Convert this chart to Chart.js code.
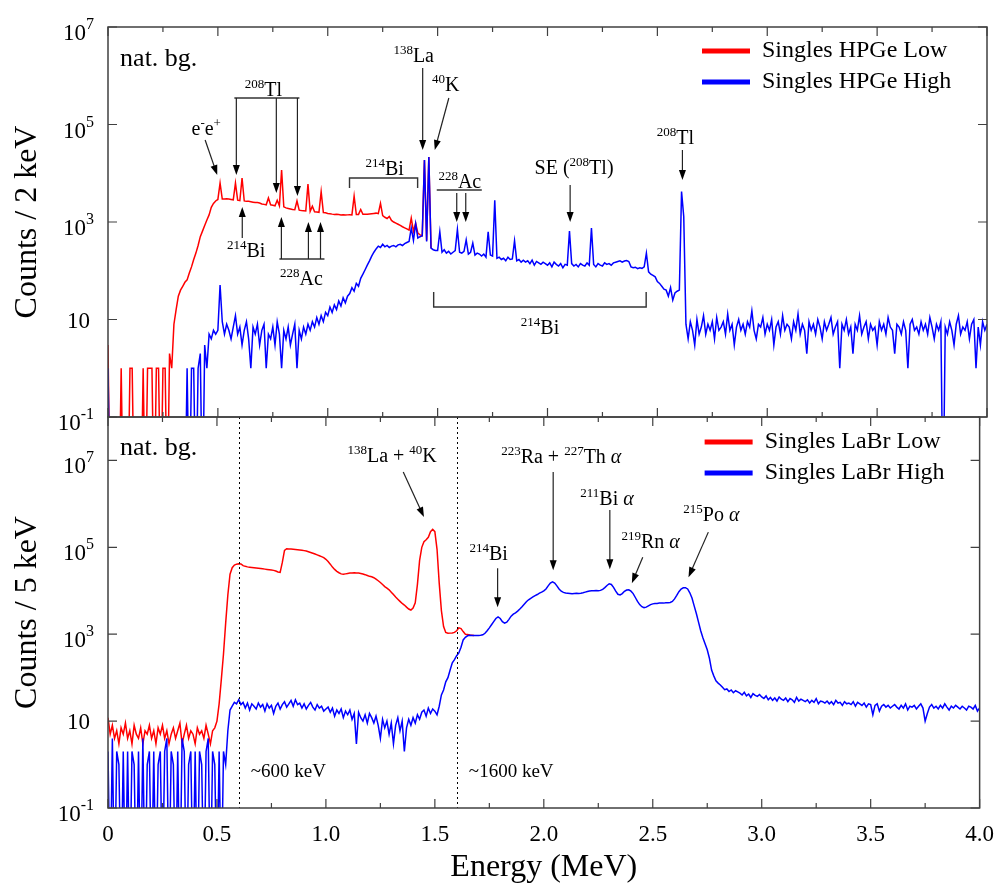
<!DOCTYPE html>
<html>
<head>
<meta charset="utf-8">
<script src="https://cdn.jsdelivr.net/npm/chart.js@4.4.1/dist/chart.umd.min.js"></script>
<style>
    body { margin: 0; background: #fff; }
    #quadro { position: relative; width: 1007px; height: 888px; }
    #quadro canvas { position: absolute; left: 0; top: 0; }
</style>
</head>
<body>
<div id="quadro">
    <canvas id="hpge" width="1007" height="888"></canvas>
    <canvas id="labr" width="1007" height="888"></canvas>
</div>
<script>
// Bins de 10 keV a partir de 0 MeV
const passoEnergia = 0.01;

// Espectro HPGe, ganho baixo (0 - 1.47 MeV)
const hpgeLow = [
    3, 0, 0, 0, 0, 0, 1, 0, 0, 0,
    1, 1, 0, 0, 0, 0, 1, 0, 1, 1,
    1, 0, 1, 1, 0, 1, 1, 0, 2, 1,
    8, 16, 30, 40, 48, 58, 65, 90, 120, 170,
    230, 330, 500, 650, 850, 1100, 1400, 2000, 2400, 2700,
    2900, 6300, 2950, 2950, 3000, 2950, 2900, 2850, 6300, 2800,
    2750, 8000, 2700, 2650, 2650, 2600, 2550, 2500, 2500, 2450,
    2350, 2300, 2250, 3100, 2250, 2200, 2150, 2800, 2150, 11700,
    2050, 1950, 1900, 1850, 1800, 1780, 2700, 1750, 1720, 1700,
    1680, 6000, 1650, 2100, 1620, 1600, 1580, 4200, 1560, 1540,
    1500, 1480, 1450, 1430, 1440, 1420, 1400, 1410, 1390, 1400,
    1410, 1400, 3400, 1420, 1430, 1800, 1440, 1450, 1440, 1460,
    1480, 1500, 1520, 1480, 2400, 1350, 1250, 1180, 1300, 1080,
    1000, 950, 900, 850, 800, 760, 720, 680, 1200, 640,
    950, 590, 545, 525, 18600, 420, 21500, 290
];

// Espectro HPGe, ganho alto (0 - 4.00 MeV)
const hpgeHigh = [
    1, 0, 0, 0, 0, 0, 0, 0, 0, 0,
    0, 0, 0, 0, 0, 0, 0, 0, 0, 0,
    0, 0, 0, 0, 0, 0, 0, 0, 0, 0,
    0, 0, 0, 0, 0, 0, 1, 0, 1, 1,
    0, 1, 2, 0, 3, 1, 5, 4, 6, 5,
    6, 51, 9, 5, 8, 6, 4, 7, 12, 5,
    7, 3, 6, 9, 4, 1, 7, 5, 8, 3,
    6, 8, 1, 5, 4, 7, 3, 9, 5, 1,
    6, 4, 7, 3, 5, 8, 1, 6, 4, 7,
    5, 8, 6, 9, 7, 11, 8, 12, 9, 14,
    12, 18, 14, 20, 16, 24, 19, 28, 22, 30,
    34, 45, 38, 55, 48, 70, 85, 105, 130, 160,
    200, 240, 280, 320, 300, 350, 310, 330, 300, 320,
    330, 310, 340, 350, 330, 360, 380, 400, 750, 420,
    920, 470, 500, 520, 18600, 400, 21500, 290, 270, 260,
    260, 630, 240, 270, 230, 250, 220, 240, 260, 700,
    240, 230, 250, 430, 220, 240, 370, 210, 230, 220,
    200, 220, 190, 630, 210, 200, 2800, 180, 190, 170,
    180, 160, 190, 170, 175, 410, 160, 170, 150, 165,
    150, 160, 140, 165, 130, 155, 145, 135, 150, 140,
    130, 145, 120, 150, 135, 125, 140, 115, 135, 130,
    650, 140, 125, 135, 120, 140, 130, 125, 145, 130,
    750, 135, 120, 140, 130, 125, 145, 135, 140, 130,
    145, 150, 155, 160, 150, 158, 162, 155, 120, 115,
    118, 110, 115, 112, 120, 230, 95, 85, 80, 75,
    60, 55, 48, 42, 40, 30, 45, 25, 35, 38,
    40, 4200, 1300, 8, 4, 9, 6, 3, 10, 5,
    7, 12, 5, 8, 6, 9, 4, 11, 6, 7,
    9, 5, 13, 6, 8, 3, 7, 10, 6, 8,
    5, 9, 7, 15, 6, 4, 8, 7, 11, 5,
    8, 6, 10, 3, 7, 9, 5, 12, 6, 8,
    7, 4, 9, 6, 13, 5, 8, 6, 2, 9,
    6, 8, 5, 10, 7, 4, 9, 6, 8, 11,
    5, 7, 9, 1, 8, 6, 10, 5, 7, 2,
    8, 6, 12, 5, 7, 9, 4, 8, 6, 7,
    3, 9, 6, 8, 5, 11, 7, 6, 2, 8,
    7, 5, 9, 6, 1, 8, 10, 6, 7, 5,
    9, 6, 8, 5, 11, 7, 4, 8, 6, 9,
    0, 7, 5, 9, 6, 3, 8, 12, 5, 7,
    6, 9, 4, 8, 10, 1, 7, 3, 9, 6, 8
];

// Espectro LaBr, ganho baixo (0 - 1.68 MeV)
const labrLow = [
    12, 5, 8, 4, 6, 3, 7, 5, 9, 4,
    6, 3, 8, 5, 4, 7, 3, 6, 5, 8,
    4, 6, 3, 7, 5, 8, 4, 6, 3, 5,
    7, 4, 6, 9, 3, 5, 8, 4, 6, 5,
    3, 7, 5, 6, 4, 8, 5, 3, 6, 7,
    10, 25, 90, 350, 1800, 8000, 24000, 34000, 39000, 41000,
    42000, 41500, 38000, 36500, 35500, 35000, 34500, 34000, 33500, 33000,
    32500, 32000, 31500, 31000, 30500, 30000, 29500, 28500, 27000, 26500,
    45000, 85000, 93000, 92000, 91000, 90000, 89000, 88000, 87000, 86000,
    84000, 82000, 79000, 76000, 73000, 70000, 67000, 64000, 61000, 58000,
    53000, 47000, 41000, 35000, 31000, 28000, 26000, 24500, 24000, 24500,
    25000, 25500, 25800, 26000, 25800, 25500, 25000, 24300, 23500, 22500,
    21500, 21000, 20000, 18500, 17000, 15500, 14000, 12500, 11500, 10500,
    9300, 8200, 7200, 6400, 5700, 5100, 4700, 4200, 3800, 3600,
    4000, 5300, 14000, 50000, 100000, 135000, 150000, 170000, 230000, 260000,
    230000, 90000, 15000, 3500, 1500, 1100, 1050, 1060, 1070, 1100,
    1200, 1400, 1350, 1150, 1000, 990, 960, 950, 940
];

// Espectro LaBr, ganho alto (0 - 4.00 MeV)
const labrHigh = [
    2, 0, 4, 0, 2, 1, 0, 2, 0, 2,
    0, 2, 1, 0, 2, 0, 4, 0, 1, 2,
    0, 2, 0, 1, 2, 0, 2, 4, 0, 2,
    1, 0, 2, 0, 4, 2, 0, 1, 2, 0,
    2, 0, 2, 1, 0, 2, 4, 0, 2, 1,
    0, 2, 0, 2, 1, 6, 18, 22, 27, 25,
    31, 24, 27, 20, 26, 18, 25, 22, 19, 26,
    21, 24, 17, 25, 20, 23, 15, 22, 26, 19,
    24, 28, 21, 25, 30, 22, 31, 24, 26, 20,
    25, 19, 23, 27, 21, 18, 24, 20, 22, 17,
    19, 21, 16, 20, 13, 18, 15, 19, 12, 17,
    14, 18, 11, 15, 3, 16, 12, 10, 14, 9,
    15, 12, 9, 13, 8, 4, 11, 7, 10, 5,
    9, 3, 8, 12, 6, 10, 2, 7, 11, 8,
    12, 9, 14, 11, 16, 18, 13, 20, 15, 19,
    17, 14, 22, 40, 52, 80, 100, 150, 220, 260,
    320, 370, 500, 740, 850, 920, 950, 940, 930, 935,
    940, 950, 970, 1050, 1200, 1400, 1650, 1950, 2300, 2500,
    2300, 1950, 1800, 1900, 2200, 2600, 2900, 3100, 3400, 3800,
    4300, 4900, 5600, 6200, 6700, 7200, 7700, 8200, 8800, 9300,
    10000, 11000, 13000, 15000, 16000, 15000, 13000, 11000, 9800, 9200,
    8900, 8800, 8700, 8600, 8700, 8800, 8700, 8800, 9000, 9300,
    9600, 9900, 10000, 10000, 10100, 10000, 10200, 10800, 11800, 13200,
    14500, 14000, 12000, 9800, 8300, 8000, 8600, 9700, 10400, 10500,
    9800, 8600, 7000, 5700, 4800, 4300, 4100, 4200, 4500, 4800,
    5000, 5100, 5100, 5200, 5200, 5200, 5300, 5300, 5400, 5700,
    6500, 7800, 9500, 11000, 11700, 11800, 11000, 9000, 6800, 4500,
    3000, 1900, 1200, 830, 600, 440, 280, 150, 110, 85,
    75, 68, 60, 53, 55, 48, 52, 45, 50, 47,
    44, 40, 46, 38, 42, 35, 43, 39, 37, 41,
    36, 33, 38, 31, 35, 30, 34, 29, 36, 32,
    30, 34, 28, 33, 31, 27, 35, 29, 32, 30,
    28, 31, 26, 30, 27, 33, 25, 29, 28, 26,
    29, 25, 28, 24, 30, 26, 27, 23, 28, 25,
    26, 24, 28, 22, 27, 25, 23, 26, 21, 25,
    24, 14, 23, 25, 17, 22, 24, 21, 23, 20,
    22, 24, 21, 19, 23, 20, 25, 18, 22, 21,
    23, 19, 22, 25, 20, 10, 15, 21, 24, 20,
    22, 19, 23, 20, 25, 21, 18, 22, 20, 23,
    21, 19, 22, 20, 18, 22, 21, 19, 23, 17, 20
];

// Eixos
const ticksY = [0.1, 10, 1e3, 1e5, 1e7];
const rotulosY = [['10', '-1'], ['10', ''], ['10', '3'], ['10', '5'], ['10', '7']];
const rotulosX = ['0', '0.5', '1.0', '1.5', '2.0', '2.5', '3.0', '3.5', '4.0'];

const fonteSerif = '"Liberation Serif", "Times New Roman", serif';
Chart.defaults.font.family = fonteSerif;
Chart.defaults.color = '#000';

// Anotações: posição em (energia MeV, log10 contagens)
const anotacoesHpge = {
    textos: [
        { p: [['nat. bg.']], e: 0.055, lg: 6.2, tam: 26, al: 'left' },
        { p: [['e'], ['-', 's'], ['e'], ['+', 's']], e: 0.447, lg: 4.785 },
        { p: [['208', 's'], ['Tl']], e: 0.707, lg: 5.585 },
        { p: [['214', 's'], ['Bi']], e: 0.629, lg: 2.282 },
        { p: [['228', 's'], ['Ac']], e: 0.880, lg: 1.708 },
        { p: [['214', 's'], ['Bi']], e: 1.259, lg: 3.964 },
        { p: [['138', 's'], ['La']], e: 1.391, lg: 6.282 },
        { p: [['40', 's'], ['K']], e: 1.537, lg: 5.687 },
        { p: [['228', 's'], ['Ac']], e: 1.601, lg: 3.697 },
        { p: [['SE ('], ['208', 's'], ['Tl)']], e: 2.121, lg: 3.985 },
        { p: [['208', 's'], ['Tl']], e: 2.582, lg: 4.6 },
        { p: [['214', 's'], ['Bi']], e: 1.966, lg: 0.703 }
    ],
    setas: [
        [0.442, 4.682, 0.497, 3.964],
        [0.584, 5.544, 0.584, 3.964],
        [0.766, 5.544, 0.766, 3.595],
        [0.862, 5.544, 0.862, 3.533],
        [0.611, 2.672, 0.611, 3.308],
        [0.789, 2.241, 0.789, 3.103],
        [0.912, 2.241, 0.912, 3.0],
        [0.967, 2.241, 0.967, 3.0],
        [1.432, 6.159, 1.432, 4.477],
        [1.551, 5.544, 1.487, 4.477],
        [1.587, 3.595, 1.587, 3.0],
        [1.628, 3.595, 1.628, 3.0],
        [2.103, 3.759, 2.103, 3.0],
        [2.614, 4.477, 2.614, 3.862]
    ],
    linhas: [
        [[0.575, 5.544], [0.871, 5.544]],
        [[0.780, 2.241], [0.985, 2.241]],
        [[1.099, 3.697], [1.099, 3.903], [1.409, 3.903], [1.409, 3.697]],
        [[1.496, 3.656], [1.701, 3.656]],
        [[1.482, 1.564], [1.482, 1.256], [2.449, 1.256], [2.449, 1.564]]
    ],
    pontilhadas: [],
    legenda: { x0: 285, x1: 237, xt: 225, dy: [24, 55] }
};

const anotacoesLabr = {
    textos: [
        { p: [['nat. bg.']], e: 0.055, lg: 7.124, tam: 26, al: 'left' },
        { p: [['138', 's'], ['La + '], ['40', 's'], ['K']], e: 1.304, lg: 6.963 },
        { p: [['214', 's'], ['Bi']], e: 1.747, lg: 4.705 },
        { p: [['223', 's'], ['Ra + '], ['227', 's'], ['Th '], ['α', 'i']], e: 2.080, lg: 6.94 },
        { p: [['211', 's'], ['Bi '], ['α', 'i']], e: 2.290, lg: 5.972 },
        { p: [['219', 's'], ['Rn '], ['α', 'i']], e: 2.490, lg: 4.982 },
        { p: [['215', 's'], ['Po '], ['α', 'i']], e: 2.769, lg: 5.604 },
        { p: [['~600 keV']], e: 0.655, lg: -0.295, tam: 19, al: 'left' },
        { p: [['~1600 keV']], e: 1.656, lg: -0.295, tam: 19, al: 'left' }
    ],
    setas: [
        [1.355, 6.733, 1.450, 5.696],
        [1.788, 4.521, 1.788, 3.622],
        [2.043, 6.733, 2.043, 4.475],
        [2.303, 5.857, 2.303, 4.498],
        [2.454, 4.774, 2.404, 4.175],
        [2.755, 5.350, 2.664, 4.313]
    ],
    linhas: [],
    pontilhadas: [0.6, 1.6],
    legenda: { x0: 275, x1: 227, xt: 215, dy: [25, 56] }
};

function serie(valores) {
    // bins vazios vão para baixo do piso do eixo log
    return valores.map((v, i) => ({ x: Math.round(i * passoEnergia * 100) / 100, y: v > 0 ? v : 1e-3 }));
}

function fonteDe(tipo, tam) {
    if (tipo === 's') return Math.round(tam * 0.65) + 'px ' + fonteSerif;
    if (tipo === 'i') return 'italic ' + tam + 'px ' + fonteSerif;
    return tam + 'px ' + fonteSerif;
}

// Texto com sobrescritos
function textoRico(ctx, partes, x, y, tam, al) {
    const larguras = partes.map(([t, tipo]) => {
        ctx.font = fonteDe(tipo, tam);
        return ctx.measureText(t).width;
    });
    const total = larguras.reduce((a, b) => a + b, 0);
    let cx = al === 'left' ? x : al === 'right' ? x - total : x - total / 2;
    partes.forEach(([t, tipo], i) => {
        ctx.font = fonteDe(tipo, tam);
        ctx.fillText(t, cx, tipo === 's' ? y - tam * 0.4 : y);
        cx += larguras[i];
    });
}

function seta(ctx, x1, y1, x2, y2) {
    const ang = Math.atan2(y2 - y1, x2 - x1);
    const c = Math.cos(ang), s = Math.sin(ang);
    const L = 10, W = 3.5;
    ctx.beginPath();
    ctx.moveTo(x1, y1);
    ctx.lineTo(x2 - L * 0.7 * c, y2 - L * 0.7 * s);
    ctx.stroke();
    ctx.beginPath();
    ctx.moveTo(x2, y2);
    ctx.lineTo(x2 - L * c + W * s, y2 - L * s - W * c);
    ctx.lineTo(x2 - L * c - W * s, y2 - L * s + W * c);
    ctx.closePath();
    ctx.fill();
}

// Moldura, ticks internos, rótulos do eixo y, anotações e legenda
const moldura = {
    id: 'moldura',
    afterDatasetsDraw(chart, args, opts) {
        const { ctx, chartArea: a } = chart;
        const sx = chart.scales.x, sy = chart.scales.y;
        const px = e => sx.getPixelForValue(e);
        const py = lg => sy.getPixelForValue(Math.pow(10, lg));
        ctx.save();

        ctx.strokeStyle = '#000';
        ctx.lineWidth = 1;
        ctx.setLineDash([2, 3]);
        opts.pontilhadas.forEach(e => {
            const x = Math.round(px(e)) + 0.5;
            ctx.beginPath();
            ctx.moveTo(x, a.top);
            ctx.lineTo(x, a.bottom);
            ctx.stroke();
        });
        ctx.setLineDash([]);

        ctx.strokeStyle = '#404040';
        ctx.lineWidth = 1.5;
        ctx.strokeRect(a.left, a.top, a.right - a.left, a.bottom - a.top);
        ctx.lineWidth = 1.2;
        ctx.beginPath();
        sx.ticks.forEach(t => {
            const x = px(t.value);
            const maior = Math.abs(t.value * 2 - Math.round(t.value * 2)) < 1e-6;
            const len = maior ? 9 : 5;
            ctx.moveTo(x, a.bottom);
            ctx.lineTo(x, a.bottom - len);
            ctx.moveTo(x, a.top);
            ctx.lineTo(x, a.top + len);
        });
        sy.ticks.forEach(t => {
            const y = sy.getPixelForValue(t.value);
            ctx.moveTo(a.left, y);
            ctx.lineTo(a.left + 9, y);
            ctx.moveTo(a.right, y);
            ctx.lineTo(a.right - 9, y);
        });
        ctx.stroke();

        // rótulos 10^n
        ctx.fillStyle = '#000';
        ctx.textBaseline = 'alphabetic';
        ctx.textAlign = 'left';
        sy.ticks.forEach((t, i) => {
            const y = sy.getPixelForValue(t.value);
            const [base, exp] = rotulosY[i];
            ctx.font = '23px ' + fonteSerif;
            const wb = ctx.measureText(base).width;
            if (exp) {
                ctx.font = '16px ' + fonteSerif;
                const we = ctx.measureText(exp).width;
                const xd = a.left - 14;
                ctx.fillText(exp, xd - we, y + 2);
                ctx.font = '23px ' + fonteSerif;
                ctx.fillText(base, xd - we - wb, y + 13);
            } else {
                ctx.fillText(base, a.left - 18 - wb, y + 8);
            }
        });

        // colchetes e barras
        ctx.strokeStyle = '#333';
        ctx.lineWidth = 1.4;
        opts.linhas.forEach(pts => {
            ctx.beginPath();
            pts.forEach(([e, lg], k) => {
                if (k === 0) ctx.moveTo(px(e), py(lg));
                else ctx.lineTo(px(e), py(lg));
            });
            ctx.stroke();
        });

        // setas
        ctx.strokeStyle = '#222';
        ctx.fillStyle = '#000';
        ctx.lineWidth = 1.2;
        opts.setas.forEach(([e1, l1, e2, l2]) => seta(ctx, px(e1), py(l1), px(e2), py(l2)));

        // textos
        ctx.fillStyle = '#000';
        opts.textos.forEach(t => textoRico(ctx, t.p, px(t.e), py(t.lg), t.tam || 20, t.al || 'center'));

        // legenda
        const lg = opts.legenda;
        ctx.textBaseline = 'middle';
        ctx.font = '24px ' + fonteSerif;
        chart.data.datasets.forEach((ds, i) => {
            const y = a.top + lg.dy[i];
            ctx.strokeStyle = ds.borderColor;
            ctx.lineWidth = 5;
            ctx.lineCap = 'butt';
            ctx.beginPath();
            ctx.moveTo(a.right - lg.x0, y);
            ctx.lineTo(a.right - lg.x1, y);
            ctx.stroke();
            ctx.fillText(ds.label, a.right - lg.xt, y);
        });
        ctx.restore();
    }
};

function montaGrafico(id, conjuntos, cfg) {
    const ctx = document.getElementById(id).getContext('2d');
    return new Chart(ctx, {
        type: 'line',
        data: {
            datasets: conjuntos.map(c => ({
                label: c.label,
                data: serie(c.valores),
                borderColor: c.cor,
                borderWidth: 1.5,
                pointRadius: 0,
                tension: 0,
                fill: false,
                order: c.ordem
            }))
        },
        options: {
            responsive: false,
            animation: false,
            devicePixelRatio: 1,
            events: [],
            layout: { padding: cfg.padding },
            plugins: {
                legend: { display: false },
                tooltip: { enabled: false },
                moldura: cfg.anotacoes
            },
            scales: {
                x: {
                    type: 'linear',
                    min: 0,
                    max: 4,
                    grid: { display: false, drawTicks: false },
                    border: { display: false },
                    ticks: {
                        display: cfg.rotulosX,
                        stepSize: 0.25,
                        autoSkip: false,
                        maxRotation: 0,
                        padding: 13,
                        font: { size: 23 },
                        callback: (v, i) => (i % 2 === 0 ? rotulosX[i / 2] : '')
                    },
                    title: {
                        display: cfg.rotulosX,
                        text: 'Energy (MeV)',
                        font: { size: 32 },
                        padding: { top: 0, bottom: 1 }
                    },
                    afterFit: s => { s.height = cfg.alturaX; }
                },
                y: {
                    type: 'logarithmic',
                    min: 0.1,
                    max: cfg.maxY,
                    grid: { display: false, drawTicks: false },
                    border: { display: false },
                    ticks: { display: false },
                    afterBuildTicks: s => { s.ticks = ticksY.map(v => ({ value: v })); },
                    title: {
                        display: true,
                        text: cfg.tituloY,
                        font: { size: 32 },
                        padding: { top: 8, bottom: 0 }
                    },
                    afterFit: s => { s.width = 108; }
                }
            }
        },
        plugins: [moldura]
    });
}

// Gráfico HPGe
montaGrafico('hpge', [
    { label: 'Singles HPGe Low', valores: hpgeLow, cor: '#ff0000', ordem: 2 },
    { label: 'Singles HPGe High', valores: hpgeHigh, cor: '#0000ff', ordem: 1 }
], {
    padding: { top: 27, right: 20, bottom: 888 - 417, left: 0 },
    alturaX: 0,
    rotulosX: false,
    maxY: 1e7,
    tituloY: 'Counts / 2 keV',
    anotacoes: anotacoesHpge
});

// Gráfico LaBr
montaGrafico('labr', [
    { label: 'Singles LaBr Low', valores: labrLow, cor: '#ff0000', ordem: 2 },
    { label: 'Singles LaBr High', valores: labrHigh, cor: '#0000ff', ordem: 1 }
], {
    padding: { top: 417, right: 20, bottom: 0, left: 0 },
    alturaX: 80,
    rotulosX: true,
    maxY: 1e8,
    tituloY: 'Counts / 5 keV',
    anotacoes: anotacoesLabr
});
</script>
</body>
</html>
